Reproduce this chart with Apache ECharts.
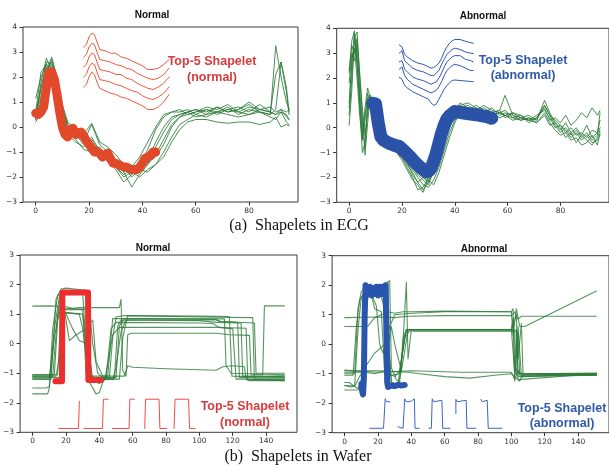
<!DOCTYPE html>
<html><head><meta charset="utf-8">
<script src="https://cdn.jsdelivr.net/npm/echarts@6/dist/echarts.min.js"></script>
<style>html,body{margin:0;padding:0;background:#fff}#c{width:609px;height:466px}</style>
</head><body><div id="c"></div>
<script>
// ---------- ECG normal ----------
const ecgNormalX = [0,2,4,6,8,10,12,15,18,21,24,27,30,33,36,39,42,45,48,51,54,57,60,64,68,72,76,80,84,88,90,92,94,95];
const ecgNormalLines = [
 [0.3,1.8,2.75,2.3,1.2,0.3,-0.2,-0.4,-0.5,-0.8,-1.0,-1.2,-1.5,-1.7,-1.9,-1.6,-0.9,-0.1,0.4,0.6,0.6,0.7,0.5,0.7,0.6,0.8,0.5,0.7,0.6,0.5,3.25,2.0,1.0,0.7],
 [0.5,1.2,2.2,2.8,2.0,0.8,0.1,-0.2,-0.6,0.1,-0.7,-1.0,-1.3,-1.8,-2.4,-1.9,-1.5,-0.8,-0.2,0.3,0.5,0.6,0.7,0.5,0.8,0.6,0.7,0.9,0.6,0.5,0.7,2.6,1.6,0.6],
 [1.15,2.0,2.5,2.4,1.5,0.5,-0.1,-0.3,-0.5,-0.9,-0.8,-1.3,-1.6,-1.9,-1.7,-1.8,-1.4,-1.2,-0.7,0.0,0.4,0.5,0.6,0.8,0.7,0.9,0.6,0.8,0.7,0.6,0.5,0.7,0.4,0.3],
 [0.2,0.6,2.3,2.6,1.8,0.9,0.2,-0.1,-0.4,-0.6,-1.0,-1.1,-1.6,-2.0,-1.8,-1.7,-1.8,-1.5,-1.0,-0.4,0.1,0.3,0.5,0.4,0.6,0.5,0.4,0.5,0.6,0.4,0.3,0.6,0.2,0.1],
 [0.4,1.5,2.6,2.5,1.6,0.6,0.0,-0.3,-0.7,-0.4,-1.0,-1.4,-1.3,-1.8,-1.6,-1.2,-0.6,0.0,0.5,0.6,0.7,0.5,0.6,0.7,0.5,0.7,0.8,0.6,0.9,0.6,0.5,0.6,0.5,0.3],
 [0.6,2.2,2.5,2.0,1.0,0.2,-0.3,-0.6,-0.8,-0.5,-0.9,-1.2,-1.4,-1.6,-2.0,-1.7,-1.3,-0.6,0.0,0.4,0.5,0.6,0.4,0.5,0.6,0.7,0.6,0.5,0.7,0.6,2.1,2.6,1.4,0.5],
 [0.3,1.0,2.1,2.7,1.9,0.7,0.1,-0.2,-0.3,0.15,-0.6,-0.8,-1.1,-1.5,-1.8,-2.0,-1.7,-1.5,-1.2,-0.6,-0.1,0.2,0.3,0.3,0.2,0.15,0.2,0.2,0.1,0.2,0.4,0.0,0.1,0.05],
 [0.5,1.6,2.4,2.3,1.4,0.4,-0.1,-0.5,-0.9,-1.0,-1.2,-1.3,-1.7,-2.2,-1.9,-1.6,-1.5,-1.1,-0.5,0.1,0.4,0.6,0.7,0.6,0.8,0.6,0.7,1.0,0.7,0.8,0.6,0.7,0.6,0.7]
];
const ecgNormalShapeletX = [0,1,2,3,4,5,6,7,8,9,10,11,12,13,14,15,16,17,18,19,20,21,22,23,24,25,26,27,28,29,30,31,32,33,34,35,36,37,38,39,40,41,42,43,44,45];
const ecgNormalShapelet = [0.55,0.5,0.6,0.8,1.6,2.2,2.2,1.9,1.3,0.6,0.0,-0.3,-0.4,-0.1,-0.05,-0.3,-0.25,-0.2,-0.35,-0.55,-0.7,-0.85,-1.0,-1.0,-1.05,-1.2,-1.1,-1.05,-1.25,-1.45,-1.45,-1.5,-1.55,-1.6,-1.6,-1.65,-1.7,-1.7,-1.7,-1.6,-1.45,-1.25,-1.2,-1.15,-1.0,-1.0];
const ecgNormalInsetX = [18,19,20,21,22,23,24,26,28,30,32,34,36,38,40,42,44,46,48,50];
const ecgNormalInsets = [
 [3.2,3.3,3.6,3.75,3.7,3.4,3.1,3.05,2.95,2.95,2.8,2.75,2.65,2.55,2.45,2.3,2.3,2.35,2.5,2.7],
 [2.8,2.9,3.2,3.35,3.3,3.0,2.7,2.65,2.6,2.5,2.45,2.35,2.3,2.15,2.05,1.95,1.9,1.95,2.1,2.35],
 [2.4,2.5,2.8,2.95,2.9,2.6,2.3,2.25,2.2,2.1,2.1,1.95,1.9,1.75,1.65,1.55,1.5,1.6,1.75,2.0],
 [2.0,2.1,2.4,2.55,2.5,2.2,1.9,1.85,1.8,1.7,1.65,1.55,1.45,1.4,1.25,1.15,1.1,1.2,1.35,1.6],
 [1.6,1.7,2.0,2.2,2.1,1.8,1.55,1.45,1.35,1.3,1.2,1.15,1.05,0.95,0.85,0.7,0.7,0.8,1.0,1.3]
];
// ---------- ECG abnormal ----------
const ecgAbnX = [0,1,2,3,4,5,6,7,8,9,10,12,14,16,18,20,22,24,26,28,30,32,34,36,38,40,42,45,48,51,54,57,59,62,65,68,71,74,76,78,80,82,84,86,88,90,92,94,95];
const ecgAbnLines = [
 [2.2,3.5,3.9,2.5,1.0,-0.4,0.8,1.6,1.2,0.9,0.5,-0.3,-0.6,-0.8,-0.9,-1.1,-1.5,-1.8,-2.2,-2.0,-2.2,-1.5,-0.8,-0.1,0.4,0.9,0.8,0.9,0.7,0.8,0.6,0.7,1.3,0.5,0.4,0.3,0.4,0.9,0.5,0.1,-0.2,0.0,-0.3,-0.1,-0.4,-0.2,-0.5,-0.3,0.6],
 [0.1,1.5,3.6,3.85,2.0,0.5,-1.1,0.2,1.3,1.1,0.8,0.0,-0.5,-0.7,-0.9,-1.2,-1.6,-2.0,-2.5,-2.4,-2.0,-1.8,-1.0,-0.3,0.3,0.7,1.0,0.8,0.7,0.9,0.7,0.6,0.5,0.6,0.4,0.5,0.3,1.1,0.6,0.2,0.0,-0.4,-0.2,-0.6,-0.3,-0.5,-0.7,-0.4,-0.1],
 [1.0,2.8,3.2,2.0,0.5,-0.5,0.3,1.2,1.0,1.1,0.6,-0.2,-0.4,-0.6,-0.8,-1.0,-1.3,-1.6,-1.9,-2.1,-2.3,-1.7,-1.2,-0.5,0.2,0.6,0.7,0.8,0.6,0.7,0.5,0.6,0.7,0.4,0.5,0.2,0.4,0.8,0.3,0.4,0.2,0.5,0.1,0.3,0.6,0.4,0.8,0.5,0.7],
 [1.8,3.0,2.7,3.4,1.5,0.2,-0.8,0.9,1.1,0.7,0.7,-0.4,-0.7,-0.9,-1.0,-1.3,-1.7,-2.1,-2.3,-2.6,-2.0,-1.9,-1.4,-0.6,0.0,0.5,0.9,1.0,0.8,0.6,0.8,0.5,0.6,0.5,0.3,0.4,0.2,0.6,0.2,-0.1,-0.3,-0.2,-0.5,-0.4,-0.7,-0.6,-0.3,-0.7,-0.2],
 [0.5,2.0,3.7,2.9,1.2,-0.2,0.5,1.4,0.9,1.2,0.4,-0.1,-0.5,-0.7,-1.0,-0.9,-1.4,-1.7,-2.0,-2.3,-2.4,-2.1,-1.6,-0.9,-0.2,0.3,0.6,0.7,0.9,0.7,0.6,0.7,0.4,0.6,0.5,0.3,0.5,0.7,0.4,0.0,0.1,-0.2,0.0,-0.3,-0.2,-0.4,-0.1,-0.2,0.3],
 [2.3,3.3,3.0,3.6,2.2,0.8,-0.3,0.6,1.2,1.0,0.9,0.1,-0.3,-0.5,-0.7,-1.0,-1.2,-1.5,-1.8,-2.0,-2.1,-2.3,-1.8,-1.1,-0.4,0.2,0.6,0.8,0.7,0.5,0.6,0.4,0.5,0.3,0.4,0.3,0.2,0.5,0.1,0.2,-0.1,0.2,-0.2,0.0,-0.3,0.1,-0.4,-0.2,0.0],
 [0.8,2.5,3.8,2.6,0.8,-1.0,-0.6,1.0,1.3,0.8,0.6,-0.2,-0.6,-0.8,-1.0,-1.2,-1.4,-1.9,-2.2,-2.5,-2.2,-1.8,-1.2,-0.4,0.3,0.8,0.9,0.7,0.8,0.6,0.5,0.6,0.5,0.4,0.3,0.4,0.3,0.9,0.5,0.3,0.1,-0.1,-0.4,-0.2,-0.5,-0.3,-0.6,-0.5,-0.3]
];
const ecgAbnShapeletX = [9,10,11,12,13,15,17,19,21,23,25,27,29,30,31,32,33,34,35,36,37,38,40,42,44,46,49,52,54];
const ecgAbnShapelet = [0.98,0.95,0.2,-0.36,-0.5,-0.62,-0.7,-0.76,-0.95,-1.16,-1.4,-1.6,-1.76,-1.75,-1.63,-1.35,-1.03,-0.62,-0.22,0.1,0.35,0.48,0.65,0.62,0.58,0.55,0.51,0.45,0.38];
const ecgAbnInsetX = [19,20,21,22,24,26,28,30,31,32,33,34,35,36,37,38,39,40,42,44,46,47];
const ecgAbnInsets = [
 [3.33,3.25,2.95,2.85,2.7,2.6,2.55,2.45,2.4,2.42,2.5,2.6,2.8,3.05,3.25,3.4,3.5,3.55,3.55,3.48,3.42,3.4],
 [3.0,3.1,2.7,2.6,2.4,2.3,2.25,2.15,2.1,2.1,2.2,2.3,2.55,2.75,2.95,3.05,3.15,3.2,3.15,3.05,3.0,2.98],
 [2.65,2.7,2.35,2.25,2.05,1.95,1.9,1.8,1.75,1.8,1.85,2.0,2.2,2.45,2.65,2.75,2.85,2.9,2.9,2.75,2.7,2.65],
 [2.35,2.45,2.1,1.95,1.75,1.65,1.55,1.45,1.4,1.45,1.5,1.65,1.85,2.1,2.3,2.4,2.5,2.55,2.5,2.4,2.3,2.3],
 [2.03,1.95,1.7,1.6,1.45,1.35,1.25,1.15,1.0,0.9,0.95,1.15,1.35,1.55,1.7,1.8,1.9,1.92,1.9,1.88,1.86,1.85]
];
// ---------- Wafer normal ----------
const waferNormalLines = [
 [[0,-1.1],[12,-1.1],[15,1.0],[17,1.7],[20,1.8],[22,1.75],[31,1.75],[33,1.6],[35,-1.15],[46,-1.15],[48,0.2],[50,0.9],[55,0.95],[100,0.93],[118,0.92],[119.5,-1.1],[151,-1.15]],
 [[0,-1.2],[10,-1.2],[13,0.5],[16,1.6],[18,1.8],[25,1.78],[30,1.7],[33,-0.9],[36,-1.2],[49,-1.2],[51,0.6],[53,0.8],[100,0.78],[110,0.72],[125,0.7],[126,-1.1],[151,-1.1]],
 [[0,1.27],[10,1.28],[20,1.25],[24,1.2],[28,1.22],[52,1.22],[53,1.5],[54,-0.9],[56,-1.1],[57,0.3],[59,0.35],[110,0.35],[118,0.3],[130,0.28],[131,-1.05],[138,-1.05],[139,1.28],[151,1.28]],
 [[0,-1.5],[8,-1.5],[10,-1.45],[13,0.2],[16,1.2],[18,1.15],[30,1.15],[32,-1.0],[38,-1.3],[40,-1.35],[44,-1.2],[47,0.5],[50,0.72],[100,0.7],[108,0.68],[112,0.55],[120,0.5],[122,-1.2],[151,-1.2]],
 [[0,-1.7],[9,-1.7],[10,-1.5],[12,0.5],[15,1.65],[18,1.65],[19,1.05],[28,1.0],[30,0.5],[34,-1.3],[38,-1.7],[40,-1.65],[44,-1.0],[48,0.3],[52,0.55],[110,0.55],[128,0.52],[129,-1.25],[151,-1.25]],
 [[0,-1.1],[14,-1.1],[16,-0.5],[18,1.3],[20,1.0],[24,0.5],[28,0.1],[33,0.0],[36,-1.2],[48,-1.2],[50,-0.8],[53,0.4],[56,0.8],[110,0.8],[112,0.75],[133,0.7],[134,-1.0],[151,-1.0]],
 [[0,-1.15],[16,-1.15],[18,1.0],[20,1.05],[30,1.0],[34,-1.1],[55,-1.1],[57,-0.75],[60,-0.8],[80,-0.85],[110,-0.9],[114,-0.78],[120,-0.75],[127,-0.78],[128,-1.2],[151,-1.25]],
 [[0,-1.2],[11,-1.2],[14,1.5],[17,1.85],[20,1.88],[33,1.8],[35,-1.1],[40,-1.2],[52,-1.2],[54,0.2],[57,0.95],[100,0.9],[132,0.88],[133,-1.2],[151,-1.2]],
 [[0,-1.05],[15,-1.05],[17,1.1],[19,1.15],[22,0.1],[26,0.3],[32,0.5],[36,0.8],[38,-0.6],[42,-1.1],[45,-1.1],[48,0.85],[110,0.82],[113,0.75],[123,0.72],[124,-1.15],[151,-1.1]],
 [[0,-1.05],[13,-1.05],[15,0.8],[17,1.2],[20,1.2],[34,1.15],[36,0.0],[39,-1.0],[42,-1.15],[50,-1.15],[52,0.6],[55,0.85],[115,0.84],[116,-0.75],[119,-1.0],[151,-1.05]]
];
const waferNormalShapelet = [[13.6,-1.27],[17.6,-1.27],[17.8,1.73],[33.2,1.73],[33.4,-1.23],[40.9,-1.23]];
const waferNormalInsets = [
 [[15.6,-2.87],[27.5,-2.87],[28,-1.95]],
 [[30.7,-2.87],[41.9,-2.87],[42.4,-1.88],[45.3,-1.88]],
 [[47.9,-2.87],[57.8,-2.87],[58.3,-1.88],[61,-1.88]],
 [[67.2,-2.87],[67.7,-1.88],[75.8,-1.88],[76.3,-2.87],[80.3,-2.87]],
 [[84.8,-2.87],[85.4,-1.88],[93.5,-1.88],[94.1,-2.87],[97.5,-2.87]]
];
// ---------- Wafer abnormal ----------
const waferAbnLines = [
 [[0,0.9],[20,0.92],[30,0.9],[38,0.95],[60,0.97],[100,0.97],[102,1.1],[104,0.85],[106,0.95],[151,0.95]],
 [[0,0.6],[10,0.6],[14,0.62],[18,0.9],[22,1.0],[26,1.1],[30,1.05],[35,1.1],[40,1.1],[60,1.12],[100,1.1],[101,0.3],[103,1.2],[105,0.6],[108,0.6],[151,1.8]],
 [[0,-0.9],[10,-0.92],[20,-0.95],[30,-0.93],[40,-0.9],[70,-0.95],[100,-0.95],[102,-1.2],[104,-0.9],[106,-1.0],[151,-1.0]],
 [[0,-1.0],[6,-1.0],[8,1.2],[10,1.8],[13,1.9],[16,1.7],[18,1.2],[22,1.1],[24,-1.0],[28,-1.05],[33,-1.0],[36,0.3],[38,0.5],[100,0.5],[102,-1.0],[104,0.6],[106,-1.1],[151,-1.0]],
 [[0,-1.4],[4,-1.45],[6,-1.4],[8,0.5],[10,1.6],[12,1.75],[20,1.7],[24,1.75],[26,2.1],[27,-1.0],[30,-1.1],[33,-0.9],[37,0.5],[100,0.5],[103,1.0],[104,-1.2],[151,-1.0]],
 [[0,-1.55],[8,-1.55],[10,-1.4],[12,0.8],[14,1.6],[16,1.7],[22,1.6],[25,1.0],[28,-1.3],[32,-1.35],[34,-0.5],[36,0.2],[39,0.48],[103,0.48],[104,-0.5],[106,0.7],[107,-1.05],[151,-1.05]],
 [[0,-1.3],[3,-1.3],[5,-1.4],[8,-1.5],[10,-1.2],[14,1.8],[16,2.0],[20,1.9],[27,2.15],[28,-0.8],[31,-1.2],[33,-1.3],[35,0.2],[37,0.5],[100,0.5],[101,0.9],[102,-1.25],[104,0.4],[105,-1.05],[151,-1.0]],
 [[0,-0.95],[12,-0.95],[18,-1.0],[24,-0.9],[28,0.6],[30,0.0],[34,-0.9],[37,2.1],[38,-0.5],[40,0.5],[42,0.45],[102,0.45],[103,-1.0],[151,-1.05]],
 [[0,-0.88],[5,-0.9],[20,-0.9],[38,-0.95],[45,-1.0],[60,-1.1],[75,-1.15],[90,-1.05],[100,-1.0],[105,-1.25],[107,-1.0],[151,-1.02]],
 [[0,-1.05],[5,-1.05],[7,0.6],[9,1.5],[12,1.7],[16,1.7],[19,1.3],[21,0.0],[23,-0.3],[25,0.1],[27,0.6],[30,1.0],[40,1.05],[60,1.1],[100,1.1],[101,1.2],[102,-0.8],[105,-1.0],[151,-0.98]],
 [[0,-1.4],[6,-1.42],[8,-1.2],[12,-0.8],[18,-0.3],[24,0.0],[26,0.3],[28,-1.3],[32,-1.4],[34,-0.9],[38,0.45],[103,0.45],[104,-1.1],[151,-1.05]]
];
const waferAbnShapelet = [[10,-1.35],[10.5,-1.6],[11,-1.7],[11.5,-1.2],[12,1.0],[12.5,2.0],[13,2.05],[14,1.7],[15,1.95],[16,1.65],[17,1.9],[18,1.7],[19,1.95],[20,1.65],[21,1.95],[22,1.7],[23,1.95],[24,1.75],[24.5,2.0],[25,0.5],[25.5,-1.3],[26,-1.45],[28,-1.4],[30,-1.42],[32,-1.38],[34,-1.4],[36,-1.38]];
const waferAbnInsets = [
 [[15,-2.85],[23.3,-2.85],[24.3,-1.85],[25,-1.95],[26,-1.92],[27.2,-1.95]],
 [[32,-2.8],[35,-2.85],[36,-1.85],[37,-1.95],[40,-1.93],[41.8,-1.85],[42.2,-2.85],[44.7,-2.85]],
 [[50.5,-2.85],[52,-2.85],[52.5,-1.85],[53.5,-1.95],[58.3,-1.9],[58.8,-2.85],[63.2,-2.85]],
 [[66.7,-2.35],[66.7,-1.87],[67.5,-1.95],[72.9,-1.9],[73.3,-2.85],[78.7,-2.85]],
 [[81.7,-1.87],[82.5,-1.95],[85.5,-1.9],[86.1,-2.85],[94.3,-2.85]]
];
const xTicksECG = [0,20,40,60,80];
const xTicksWafer = [0,20,40,60,80,100,120,140];

const GREEN = '#2b7a37';
const zip = (xs, ys) => xs.map((x,i)=>[x, ys[i]]);
const minus = v => (v < 0 ? '\u2212' + (-v) : String(v));

const grids = [
  {left:23, top:27, width:275, height:175},
  {left:336.7, top:28.3, width:275, height:174},
  {left:20.1, top:255, width:276.9, height:177.3},
  {left:332.1, top:255.7, width:284.7, height:177}
].map(g => Object.assign({show:true, borderColor:'#3a3a3a', borderWidth:1, backgroundColor:'transparent'}, g));

const axLabel = {fontFamily:'DejaVu Sans', fontSize:7.5, color:'#333'};
function xAx(i, min, max, ticks){
  return {type:'value', gridIndex:i, min, max, splitLine:{show:false},
    axisLine:{show:false, onZero:false},
    axisTick:{show:true, inside:false, length:3.5, customValues:ticks, lineStyle:{color:'#333'}},
    axisLabel:Object.assign({margin:5, customValues:ticks, formatter:minus}, axLabel)};
}
function yAx(i, min, max){
  return {type:'value', gridIndex:i, min, max, interval:1, splitLine:{show:false},
    axisLine:{show:false, onZero:false},
    axisTick:{show:true, inside:false, length:3.5, lineStyle:{color:'#333'}},
    axisLabel:Object.assign({margin:6, formatter:minus}, axLabel)};
}
const series = [];
function addLine(idx, data, color, width, opacity, z){
  series.push({type:'line', xAxisIndex:idx, yAxisIndex:idx, data, showSymbol:false, symbol:'none',
    silent:true, z:z||2, lineStyle:{color, width, opacity:opacity==null?1:opacity, join:'round', cap:'round'}});
}
ecgNormalLines.forEach(l => addLine(0, zip(ecgNormalX, l), GREEN, 1, 0.85));
addLine(0, zip(ecgNormalShapeletX, ecgNormalShapelet), '#e2492a', 9, 1, 5);
ecgNormalInsets.forEach(l => addLine(0, zip(ecgNormalInsetX, l), '#ec5a3c', 1, 1, 4));
ecgAbnLines.forEach(l => addLine(1, zip(ecgAbnX, l), GREEN, 1, 0.85));
addLine(1, zip(ecgAbnShapeletX, ecgAbnShapelet), '#2a52a6', 13, 1, 5);
ecgAbnInsets.forEach(l => addLine(1, zip(ecgAbnInsetX, l), '#2f57b0', 1, 1, 4));
waferNormalLines.forEach(l => addLine(2, l, GREEN, 1.1, 0.8));
addLine(2, waferNormalShapelet, '#ee2e2e', 6, 1, 5);
waferNormalInsets.forEach(l => addLine(2, l, '#f04a4a', 1, 1, 4));
waferAbnLines.forEach(l => addLine(3, l, GREEN, 1.1, 0.8));
addLine(3, waferAbnShapelet, '#2a55ae', 6, 1, 5);
waferAbnInsets.forEach(l => addLine(3, l, '#3a66bf', 1, 1, 4));

function txt(x, y, text, font, fill){
  return {type:'text', x, y, silent:true, z:100, style:{text, x:0, y:0, font, fill, textAlign:'center', textVerticalAlign:'middle'}};
}
const titleFont = 'bold 10px "Liberation Sans", Arial, sans-serif';
const annFont = 'bold 12.5px "Liberation Sans", Arial, sans-serif';
const capFont = '16px "Liberation Serif", "DejaVu Serif", serif';
const RED = '#d93a3c', BLUE = '#2f5aa8';

const chart = echarts.init(document.getElementById('c'), null, {renderer:'canvas'});
chart.setOption({
  animation:false,
  grid:grids,
  xAxis:[xAx(0,-4.76,98.35,xTicksECG), xAx(1,-4.72,98.4,xTicksECG), xAx(2,-7.55,158.55,xTicksWafer), xAx(3,-7.55,158.55,xTicksWafer)],
  yAxis:[yAx(0,-3,4), yAx(1,-3,4), yAx(2,-3,3), yAx(3,-3,3)],
  series,
  graphic:[
    txt(152,15,'Normal',titleFont,'#111'),
    txt(483,16,'Abnormal',titleFont,'#111'),
    txt(153,248,'Normal',titleFont,'#111'),
    txt(484,249,'Abnormal',titleFont,'#111'),
    txt(212,62,'Top-5 Shapelet',annFont,RED),
    txt(212,78,'(normal)',annFont,RED),
    txt(523,61,'Top-5 Shapelet',annFont,BLUE),
    txt(523,76,'(abnormal)',annFont,BLUE),
    txt(245,407,'Top-5 Shapelet',annFont,RED),
    txt(245,423,'(normal)',annFont,RED),
    txt(562,409,'Top-5 Shapelet',annFont,BLUE),
    txt(562,424,'(abnormal)',annFont,BLUE),
    txt(299,226,'(a)  Shapelets in ECG',capFont,'#111'),
    txt(298,457,'(b)  Shapelets in Wafer',capFont,'#111')
  ]
});
</script></body></html>
